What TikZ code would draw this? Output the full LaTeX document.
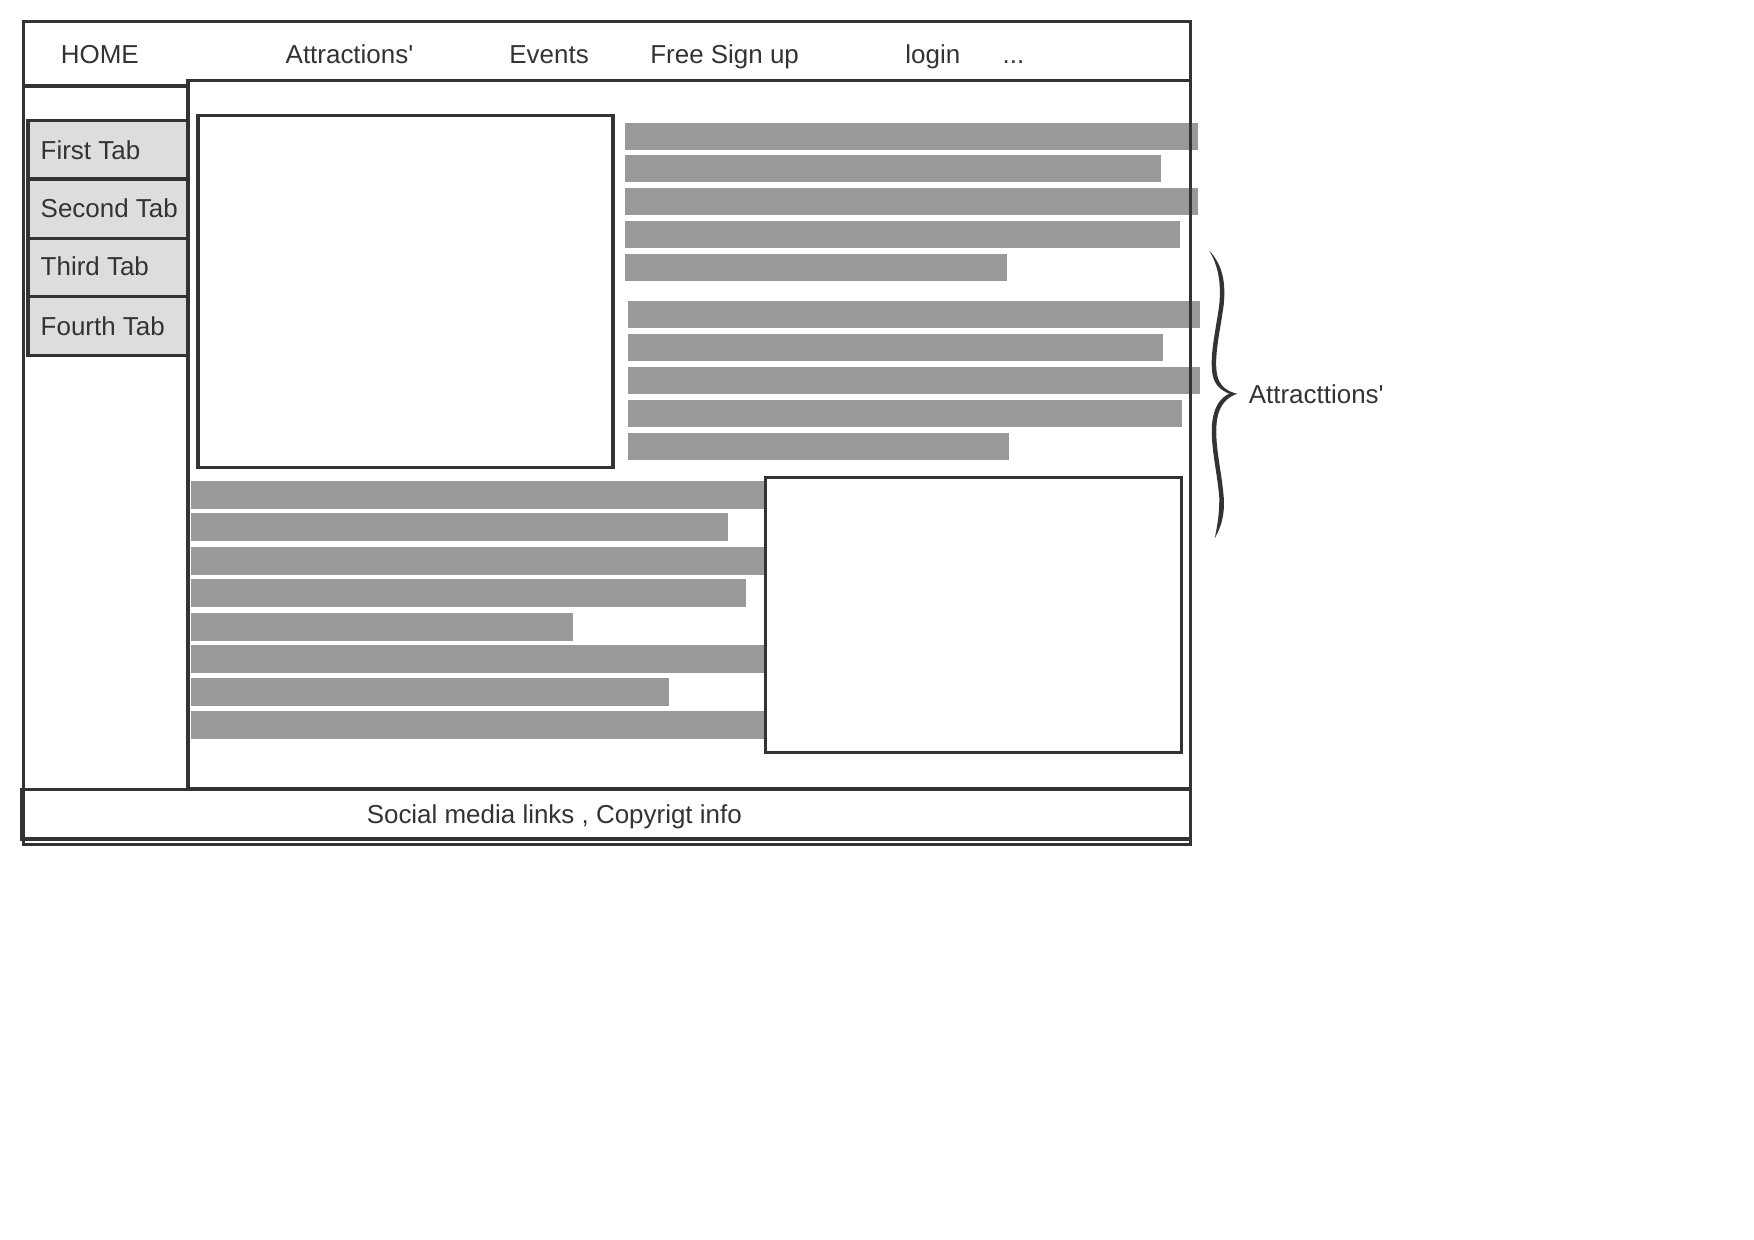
\documentclass[tikz,border=0pt]{standalone}
\usepackage{fontspec}
\setmainfont{Liberation Sans}[Ligatures=TeXOff]
\definecolor{ink}{HTML}{333333}
\definecolor{tabfill}{HTML}{DDDDDD}
\definecolor{barfill}{HTML}{999999}
\begin{document}
\begin{tikzpicture}[x=0.5pt,y=-0.5pt,
  frameline/.style={draw=ink,line width=1.5pt},
  imgbox/.style={draw=ink,line width=1.4pt,fill=white},
  bar/.style={fill=barfill,draw=none},
  tabbox/.style={draw=ink,line width=1.4pt,fill=tabfill},
  lbl/.style={text=ink,font=\fontsize{11.6}{14}\selectfont,inner sep=0pt}]

\useasboundingbox[fill=white] (0,0) rectangle (1568,1108);

% text bars, right column
\foreach \y/\xe in {110/1071,139/1038,168/1071,198/1055,227/900}
  \fill[bar] (559,\y) rectangle (\xe,\y+24);
\foreach \y/\xe in {269/1073,299/1040,328/1073,358/1057,387/902}
  \fill[bar] (561,\y) rectangle (\xe,\y+24);
% text bars, lower left
\foreach \y/\xe in {430/684,459/651,489/684,518/667,548/512,577/684,606/598,636/684}
  \fill[bar] (171,\y) rectangle (\xe,\y+25);

% image boxes
\draw[imgbox] (177,103) rectangle (548,418);
\draw[imgbox] (684,427) rectangle (1056,673);

% content panel and side bar
\draw[frameline] (168,72) rectangle (1064,705);
\draw[frameline] (21,77) -- (168,77);

% tabs
\draw[tabbox] (25,108) rectangle (168,160);
\draw[tabbox] (25,160) rectangle (168,213);
\draw[tabbox] (25,213) rectangle (168,265);
\draw[tabbox] (25,265) rectangle (168,318);
\node[lbl,anchor=base west] (tab1) at (36,142.5) {First Tab};
\node[lbl,anchor=base west] (tab2) at (36,194.5) {Second Tab};
\node[lbl,anchor=base west] (tab3) at (36,246.5) {Third Tab};
\node[lbl,anchor=base west] (tab4) at (36,299.5) {Fourth Tab};

% footer
\draw[frameline,fill=white] (19,706) rectangle (1064,750);
\node[lbl,anchor=base] (footer) at (495.5,736.5) {Social media links , Copyrigt info};

% outer frame
\draw[frameline] (21,19) rectangle (1064,755);

% navigation
\node[lbl,anchor=base west] (home) at (54,56.5) {HOME};
\node[lbl,anchor=base west] (attr) at (255,56.5) {Attractions'};
\node[lbl,anchor=base west] (events) at (455,56.5) {Events};
\node[lbl,anchor=base west] (signup) at (581,56.5) {Free Sign up};
\node[lbl,anchor=base west] (login) at (809,56.5) {login};
\node[lbl,anchor=base west] (more) at (896,56.5) {...};

% curly brace
\fill[ink] (1081,224)
  .. controls (1092,236) and (1096,250) .. (1094,272)
  .. controls (1091,295) and (1085,318) .. (1088,335)
  .. controls (1090,345) and (1097,350) .. (1106,352)
  .. controls (1097,355) and (1090,362) .. (1088,375)
  .. controls (1085,395) and (1092,420) .. (1094,445)
  .. controls (1095,462) and (1091,472) .. (1086,481)
  .. controls (1088,470) and (1090,462) .. (1090,445)
  .. controls (1088,420) and (1081,395) .. (1084,375)
  .. controls (1086,362) and (1092,355) .. (1099,352)
  .. controls (1092,349) and (1086,345) .. (1084,335)
  .. controls (1081,318) and (1087,295) .. (1090,272)
  .. controls (1092,250) and (1088,236) .. (1081,224) -- cycle;
\coordinate (bracetip) at (1106,352);
\node[lbl,anchor=base west] (bracelabel) at (1116,360.5) {Attracttions'};
\end{tikzpicture}
\end{document}
